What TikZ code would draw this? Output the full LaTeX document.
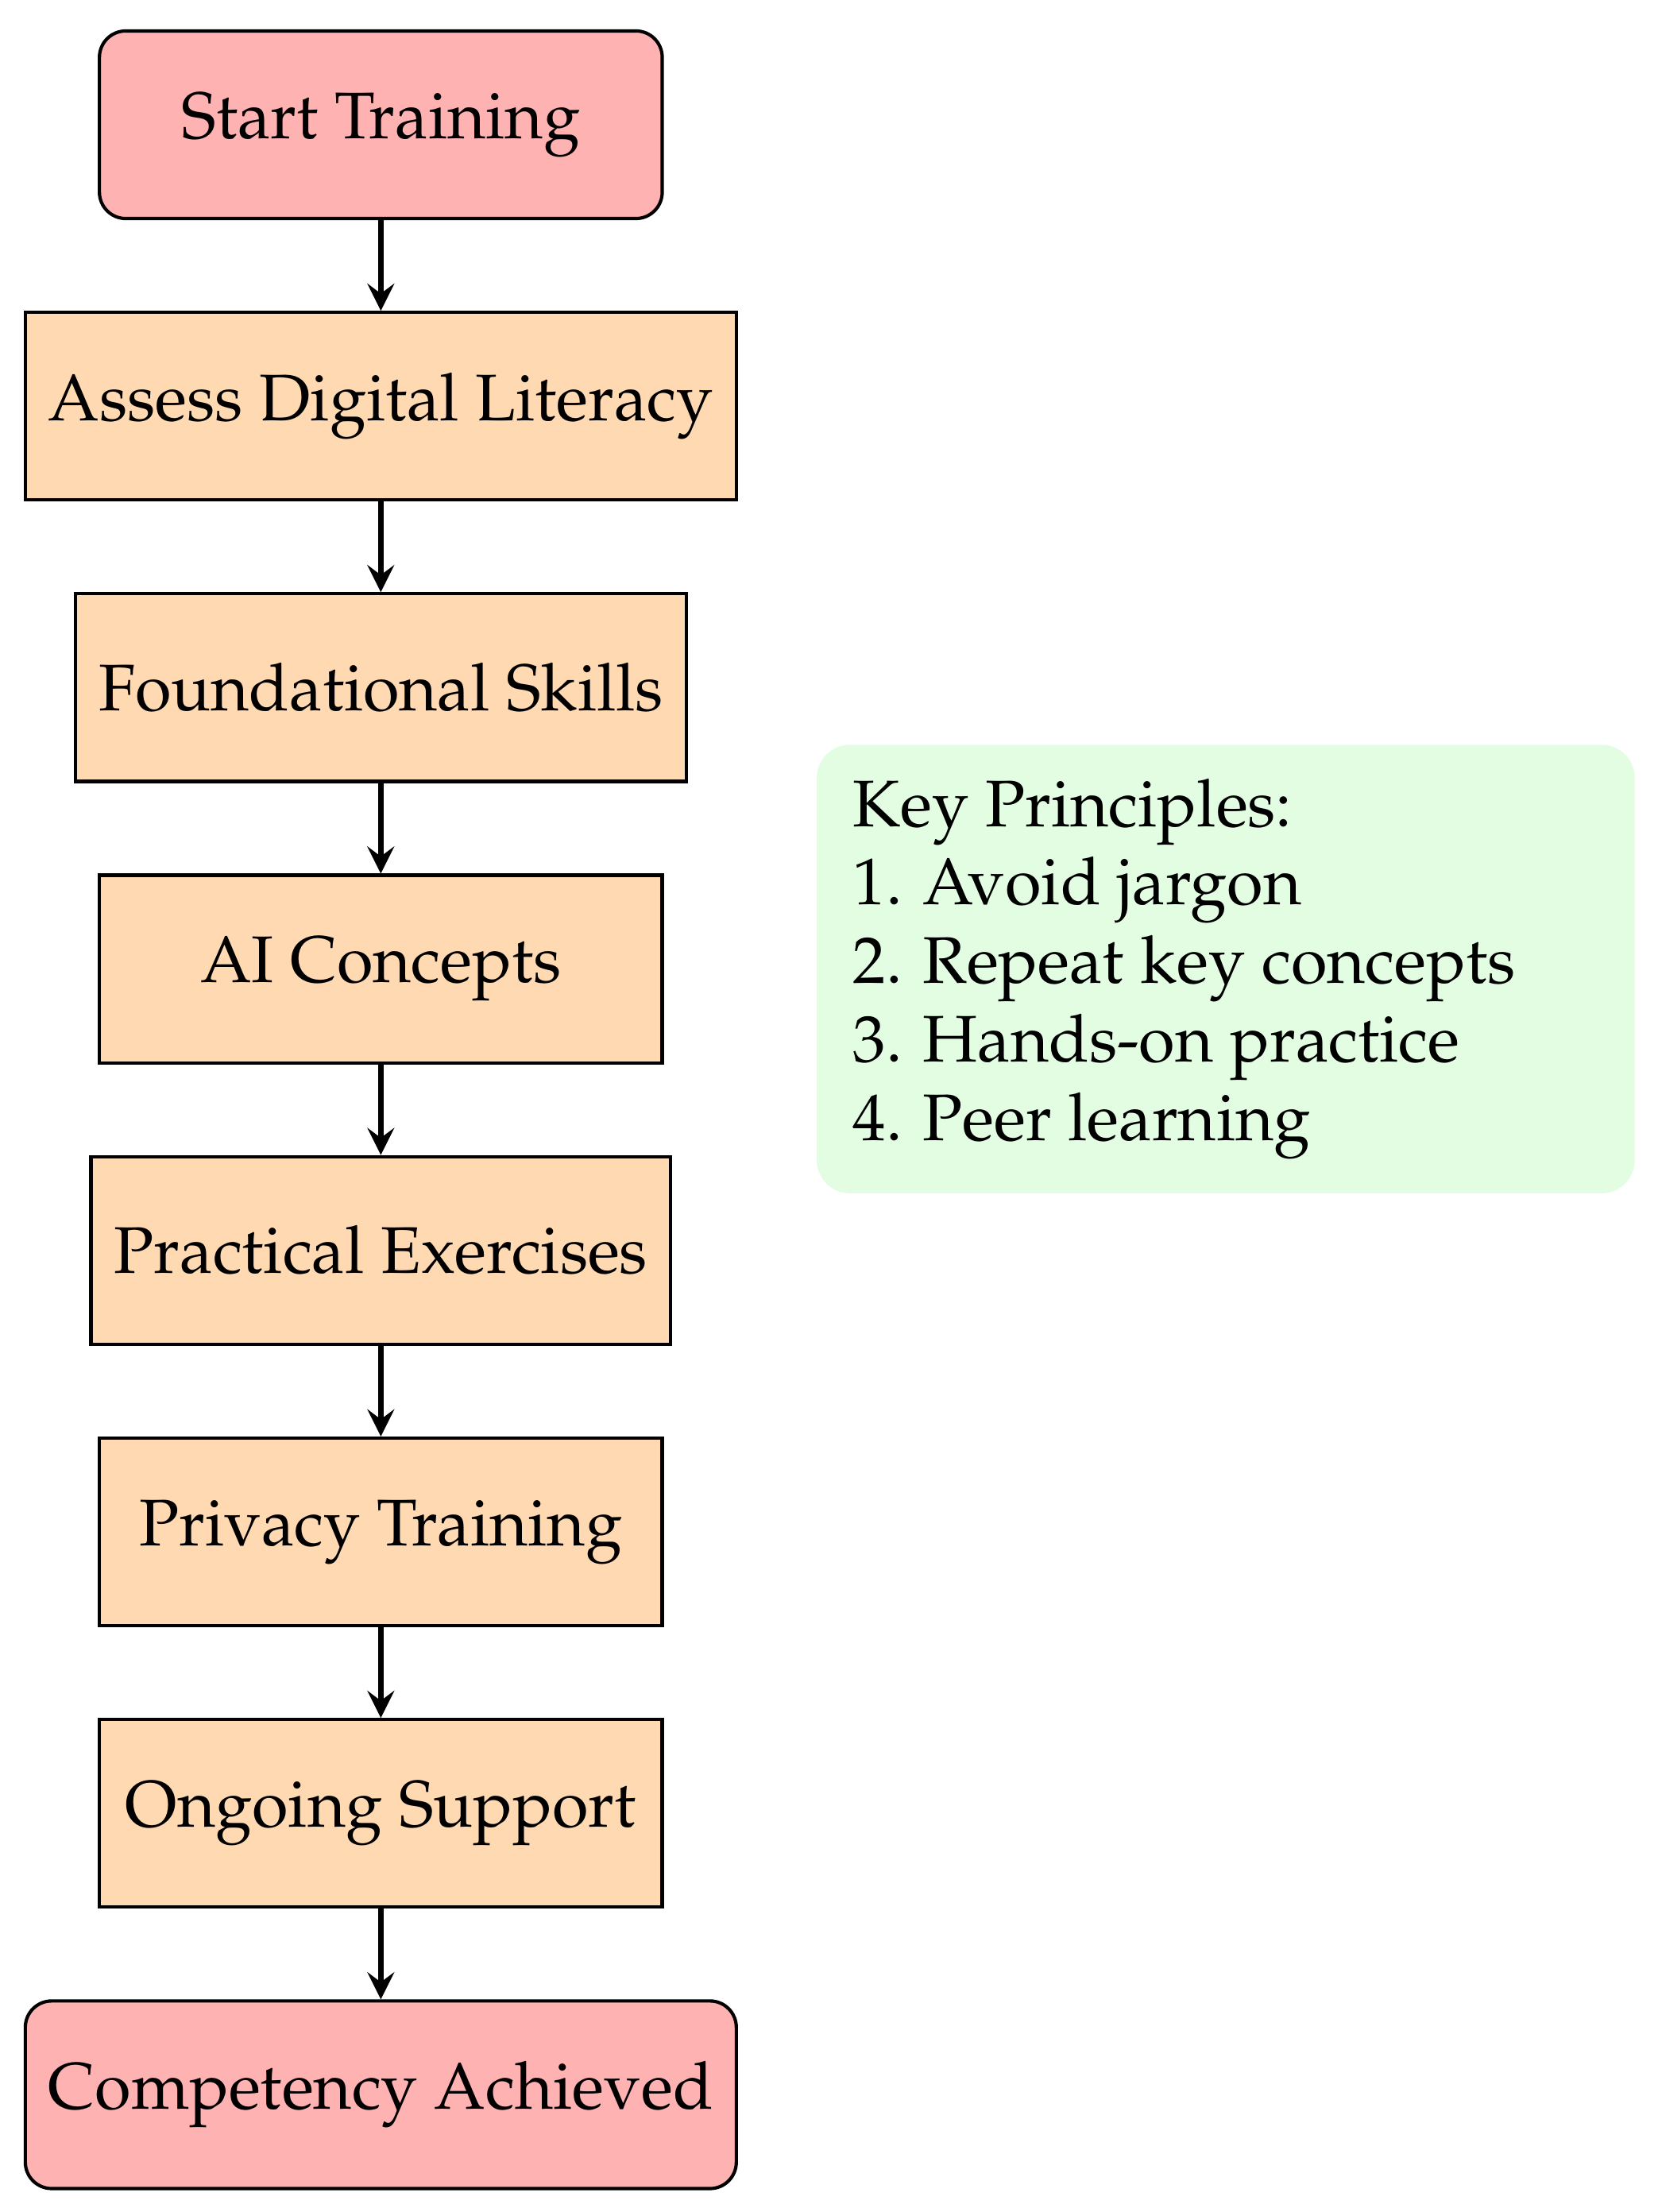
\documentclass[tikz,border=0pt]{standalone}
\usepackage[T1]{fontenc}
\usepackage{mathpazo}
\usetikzlibrary{arrows}
\definecolor{startred}{RGB}{255,178,178}
\definecolor{stepor}{RGB}{255,217,178}
\definecolor{keygreen}{RGB}{226,253,226}
\tikzset{
  base/.style={draw=black, line width=0.5pt, minimum height=1cm, inner sep=3pt, font=\fontsize{10}{11.9}\selectfont},
  terminal/.style={base, rounded corners=4pt, fill=startred},
  stepbox/.style={base, fill=stepor},
  flow/.style={thick, -stealth},
}
\begin{document}
\begin{tikzpicture}
\useasboundingbox (0,0) rectangle (8.835,-11.79);
\node[terminal, minimum width=3cm] (start) at (2.03,-0.665) {Start Training};
\node[stepbox, minimum width=3.79cm] (assess) at (2.03,-2.165) {Assess Digital Literacy};
\node[stepbox, minimum width=3.256cm] (found) at (2.03,-3.665) {Foundational Skills};
\node[stepbox, minimum width=3cm] (ai) at (2.03,-5.165) {AI Concepts};
\node[stepbox, minimum width=3.09cm] (prac) at (2.03,-6.665) {Practical Exercises};
\node[stepbox, minimum width=3cm] (priv) at (2.03,-8.165) {Privacy Training};
\node[stepbox, minimum width=3cm] (ongo) at (2.03,-9.665) {Ongoing Support};
\node[terminal, minimum width=3.79cm] (comp) at (2.03,-11.165) {Competency Achieved};
\draw[flow] (start) -- (assess);
\draw[flow] (assess) -- (found);
\draw[flow] (found) -- (ai);
\draw[flow] (ai) -- (prac);
\draw[flow] (prac) -- (priv);
\draw[flow] (priv) -- (ongo);
\draw[flow] (ongo) -- (comp);
\node[fill=keygreen, rounded corners=5pt, minimum width=4.36cm, minimum height=2.39cm, inner sep=0pt] (keybox) at (6.534,-5.165) {};
\node[anchor=north west, inner sep=0pt, align=left, font=\fontsize{10}{11.9}\selectfont] (keytext) at (4.54,-4.143)
  {Key Principles:\\1. Avoid jargon\\2. Repeat key concepts\\3. Hands-on practice\\4. Peer learning};
\end{tikzpicture}
\end{document}
